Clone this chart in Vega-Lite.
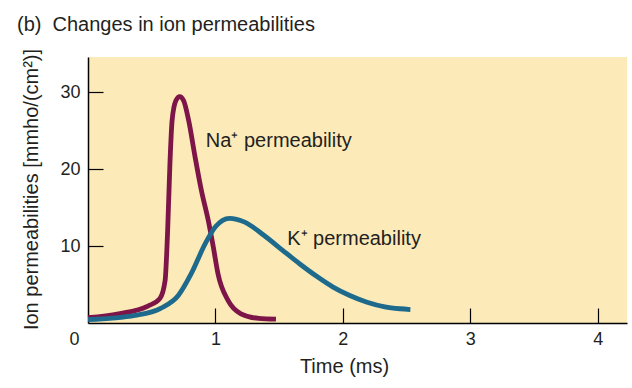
{
  "$schema": "https://vega.github.io/schema/vega-lite/v6.json",
  "width": 539,
  "height": 266,
  "autosize": "none",
  "padding": {"left": 88, "top": 57, "right": 5, "bottom": 65},
  "background": "#ffffff",
  "view": {"fill": "#FCEAB9", "stroke": null},
  "title": {
    "text": "(b)\u00a0 Changes in ion permeabilities",
    "anchor": "start",
    "frame": "group",
    "dx": -71,
    "offset": -3,
    "baseline": "alphabetic",
    "font": "Liberation Sans",
    "fontSize": 20,
    "fontWeight": "normal",
    "color": "#231f20"
  },
  "datasets": {
    "curves": [
      {"ion": "Na", "t": 0.0, "v": 0.7},
      {"ion": "Na", "t": 0.24, "v": 1.2},
      {"ion": "Na", "t": 0.47, "v": 2.2},
      {"ion": "Na", "t": 0.565, "v": 3.2},
      {"ion": "Na", "t": 0.605, "v": 5.5},
      {"ion": "Na", "t": 0.625, "v": 12.0},
      {"ion": "Na", "t": 0.643, "v": 20.7},
      {"ion": "Na", "t": 0.66, "v": 26.3},
      {"ion": "Na", "t": 0.69, "v": 28.9},
      {"ion": "Na", "t": 0.72, "v": 29.4},
      {"ion": "Na", "t": 0.75, "v": 28.9},
      {"ion": "Na", "t": 0.79, "v": 26.3},
      {"ion": "Na", "t": 0.84, "v": 21.6},
      {"ion": "Na", "t": 0.89, "v": 17.2},
      {"ion": "Na", "t": 0.944, "v": 13.3},
      {"ion": "Na", "t": 0.983, "v": 9.9},
      {"ion": "Na", "t": 1.02, "v": 6.4},
      {"ion": "Na", "t": 1.1, "v": 2.9},
      {"ion": "Na", "t": 1.2, "v": 1.2},
      {"ion": "Na", "t": 1.34, "v": 0.6},
      {"ion": "Na", "t": 1.475, "v": 0.5},
      {"ion": "K", "t": 0.0, "v": 0.45},
      {"ion": "K", "t": 0.37, "v": 1.0},
      {"ion": "K", "t": 0.57, "v": 1.9},
      {"ion": "K", "t": 0.71, "v": 3.6},
      {"ion": "K", "t": 0.81, "v": 6.4},
      {"ion": "K", "t": 0.92, "v": 10.3},
      {"ion": "K", "t": 1.0, "v": 12.5},
      {"ion": "K", "t": 1.11, "v": 13.6},
      {"ion": "K", "t": 1.23, "v": 13.1},
      {"ion": "K", "t": 1.38, "v": 11.4},
      {"ion": "K", "t": 1.53, "v": 9.4},
      {"ion": "K", "t": 1.66, "v": 7.7},
      {"ion": "K", "t": 1.8, "v": 6.0},
      {"ion": "K", "t": 1.92, "v": 4.7},
      {"ion": "K", "t": 2.05, "v": 3.6},
      {"ion": "K", "t": 2.19, "v": 2.7},
      {"ion": "K", "t": 2.33, "v": 2.1},
      {"ion": "K", "t": 2.45, "v": 1.85},
      {"ion": "K", "t": 2.53, "v": 1.75}
    ],
    "labels": [
      {"label": "Na⁺ permeability", "t": 0.925, "v": 22.9},
      {"label": "K⁺ permeability", "t": 1.563, "v": 10.1}
    ]
  },
  "layer": [
    {
      "data": {"name": "curves"},
      "mark": {"type": "line", "strokeWidth": 4.8, "interpolate": "monotone", "strokeCap": "butt"},
      "encoding": {
        "x": {
          "field": "t",
          "type": "quantitative",
          "scale": {"domain": [0, 4.23], "nice": false, "zero": false},
          "axis": {
            "values": [0, 1, 2, 3, 4],
            "format": "d",
            "title": "Time (ms)",
            "grid": false,
            "domainColor": "#000000",
            "domainWidth": 1.5,
            "tickColor": "#000000",
            "tickWidth": 1.2,
            "tickSize": -15,
            "tickOpacity": {"condition": {"test": "datum.value === 0", "value": 0}, "value": 1},
            "labelOffset": {"condition": {"test": "datum.value === 0", "value": -19}, "value": 0},
            "labelPadding": 22,
            "labelFont": "Liberation Sans",
            "labelFontSize": 18,
            "labelColor": "#231f20",
            "titleFont": "Liberation Sans",
            "titleFontSize": 20,
            "titleFontWeight": "normal",
            "titleColor": "#231f20",
            "titleX": 256,
            "titleY": 49.5,
            "titleBaseline": "alphabetic",
            "titleAlign": "center"
          }
        },
        "y": {
          "field": "v",
          "type": "quantitative",
          "scale": {"domain": [0, 34.55], "nice": false},
          "axis": {
            "values": [10, 20, 30],
            "format": "d",
            "title": "Ion permeabilities [mmho/(cm²)]",
            "grid": false,
            "domainColor": "#000000",
            "domainWidth": 1.5,
            "tickColor": "#000000",
            "tickWidth": 1.2,
            "tickSize": -15,
            "labelPadding": 23,
            "labelFont": "Liberation Sans",
            "labelFontSize": 18,
            "labelColor": "#231f20",
            "titleFont": "Liberation Sans",
            "titleFontSize": 20,
            "titleFontWeight": "normal",
            "titleColor": "#231f20",
            "titleAngle": -90,
            "titleX": -51,
            "titleY": 132,
            "titleBaseline": "alphabetic",
            "titleAlign": "center"
          }
        },
        "color": {
          "field": "ion",
          "type": "nominal",
          "scale": {"domain": ["Na", "K"], "range": ["#7D1548", "#1D6A8C"]},
          "legend": null
        }
      }
    },
    {
      "data": {"name": "labels"},
      "mark": {"type": "text", "align": "left", "baseline": "alphabetic", "font": "Liberation Sans", "fontSize": 20, "color": "#231f20"},
      "encoding": {
        "x": {"field": "t", "type": "quantitative"},
        "y": {"field": "v", "type": "quantitative"},
        "text": {"field": "label"}
      }
    }
  ]
}
